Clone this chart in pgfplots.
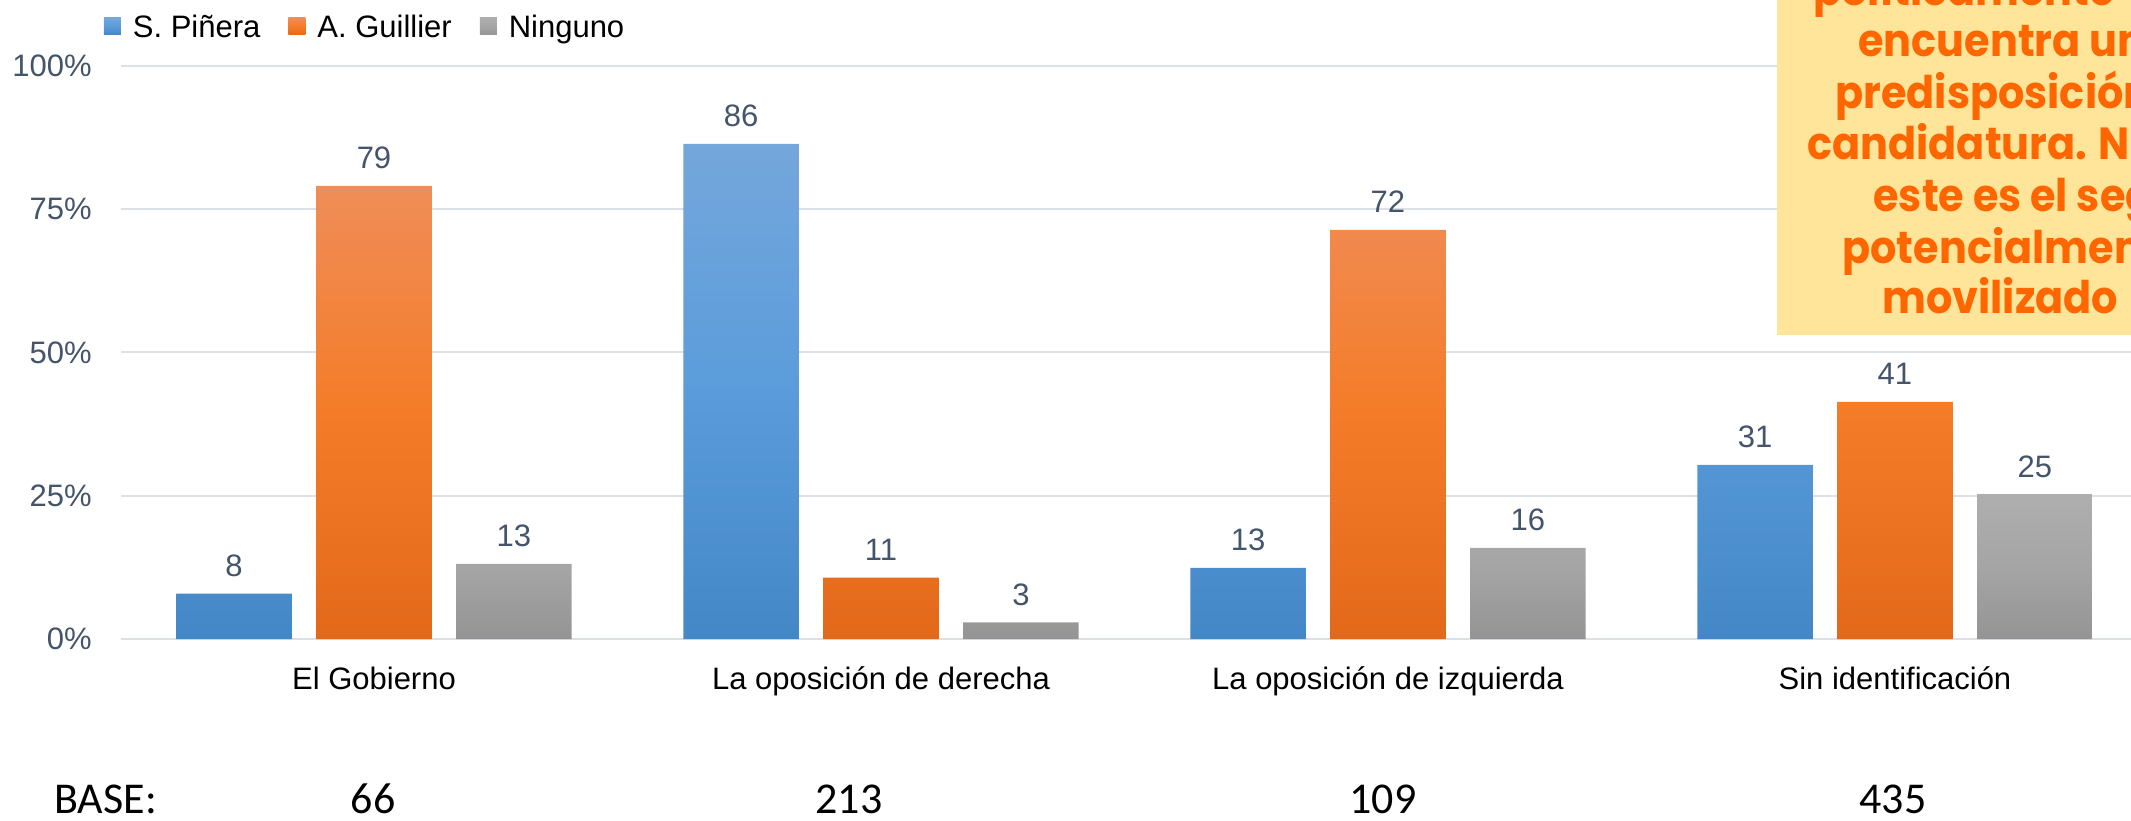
\documentclass[border=0pt]{standalone}
\usepackage{pgfplots}
\usepackage{pgfplotstable}
\pgfplotsset{compat=1.18}
\usepackage{fontspec}
\setmainfont{Liberation Sans}
\newfontfamily\basefont{Carlito}
\newfontfamily\boxfont{Poppins}

\definecolor{bTop}{HTML}{74A7DB}
\definecolor{bMid}{HTML}{5A9CDB}
\definecolor{bBot}{HTML}{4487C7}
\definecolor{oTop}{HTML}{F08D58}
\definecolor{oMid}{HTML}{F47C28}
\definecolor{oBot}{HTML}{E3691A}
\definecolor{gTop}{HTML}{AEAEAE}
\definecolor{gMid}{HTML}{A5A5A5}
\definecolor{gBot}{HTML}{949494}
\definecolor{slate}{HTML}{44546A}
\definecolor{gridc}{HTML}{DCE1E8}
\definecolor{boxfill}{HTML}{FFE599}
\definecolor{boxtext}{HTML}{FF6600}

\pgfplotstableread{
x y label
0 7.9 8
1 86.4 86
2 12.4 13
3 30.4 31
}\tpin
\pgfplotstableread{
x y label
0 79.1 79
1 10.7 11
2 71.4 72
3 41.4 41
}\tgui
\pgfplotstableread{
x y label
0 13.1 13
1 2.9 3
2 15.9 16
3 25.3 25
}\tnin

\begin{document}
\begin{tikzpicture}
\begin{axis}[
  at={(60.25pt,90.5pt)}, anchor=south west,
  scale only axis, width=1014pt, height=286.5pt,
  xmin=-0.5, xmax=3.5, ymin=0, ymax=100,
  ybar, bar width=0.228,
  axis line style={draw=none},
  major tick length=0pt,
  ymajorgrids, grid style={gridc, line width=1pt},
  ytick={0,25,50,75,100},
  yticklabels={0\%,25\%,50\%,75\%,100\%},
  xtick={0,1,2,3},
  xticklabels={El Gobierno, La oposición de derecha, La oposición de izquierda, Sin identificación},
  /pgf/number format/assume math mode=true,
  yticklabel style={font=\fontsize{15.5}{18}\selectfont, text=slate, anchor=east, inner sep=0pt, xshift=-14.25pt},
  xticklabel style={font=\fontsize{15.5}{18}\selectfont, text=black, anchor=base, inner sep=0pt, yshift=-25pt},
  nodes near coords, point meta=explicit symbolic,
  nodes near coords style={font=\fontsize{15.5}{18}\selectfont, text=slate, anchor=base, inner sep=0pt, yshift=8.5pt},
  legend columns=-1,
  legend style={at={(axis description cs:0,1)}, anchor=west, xshift=-8.5pt, yshift=19.25pt,
    draw=none, fill=none, inner sep=0pt, font=\fontsize{15.5}{18}\selectfont,
    nodes={inner sep=0pt},
    /tikz/every even column/.append style={column sep=14pt},
    /tikz/every odd column/.append style={column sep=6pt}},
  legend image code/.code={\path[#1, draw=none] (0pt,-3.7pt) rectangle (8.5pt,4.8pt);},
]
\addplot[draw=none, bar shift=-0.276, top color=bTop, bottom color=bBot, middle color=bMid] table[x=x, y=y, meta=label] {\tpin};
\addplot[draw=none, bar shift=0, top color=oTop, bottom color=oBot, middle color=oMid] table[x=x, y=y, meta=label] {\tgui};
\addplot[draw=none, bar shift=0.276, top color=gTop, bottom color=gBot, middle color=gMid] table[x=x, y=y, meta=label] {\tnin};
\legend{S. Piñera, A. Guillier, Ninguno}
\end{axis}

% BASE row
\begin{scope}[every node/.style={inner sep=0pt, font=\basefont\fontsize{22}{26}\selectfont}]
\node[anchor=base west] at (27pt,3.5pt) {BASE:};
\node[anchor=base] at (186.5pt,3.5pt) {66};
\node[anchor=base] at (424.5pt,3.5pt) {213};
\node[anchor=base] at (691.5pt,3.5pt) {109};
\node[anchor=base] at (946.5pt,3.5pt) {435};
\end{scope}

% Text box (cropped at the picture edge)
\fill[boxfill] (888.5pt,242.5pt) rectangle (1080pt,420pt);
\begin{scope}[every node/.style={anchor=base west, inner sep=0pt, text=boxtext, font=\boxfont\bfseries\fontsize{22.5}{25.5}\selectfont}]
\node at (906.5pt,407.3pt) {\scalebox{0.92}[1]{políticamente}};
\node at (929pt,381.65pt) {\scalebox{0.92}[1]{encuentra una}};
\node at (917.5pt,355.85pt) {\scalebox{0.92}[1]{predisposición}};
\node at (903.5pt,330pt) {\scalebox{0.92}[1]{candidatura. No}};
\node at (936.5pt,304.15pt) {\scalebox{0.92}[1]{este es el segmento}};
\node at (921pt,278.35pt) {\scalebox{0.92}[1]{potencialmente}};
\node at (941pt,253.35pt) {\scalebox{0.92}[1]{movilizado}};
\end{scope}

\pgfresetboundingbox
\useasboundingbox (0pt,0pt) rectangle (1065.5pt,410pt);
\end{tikzpicture}
\end{document}
